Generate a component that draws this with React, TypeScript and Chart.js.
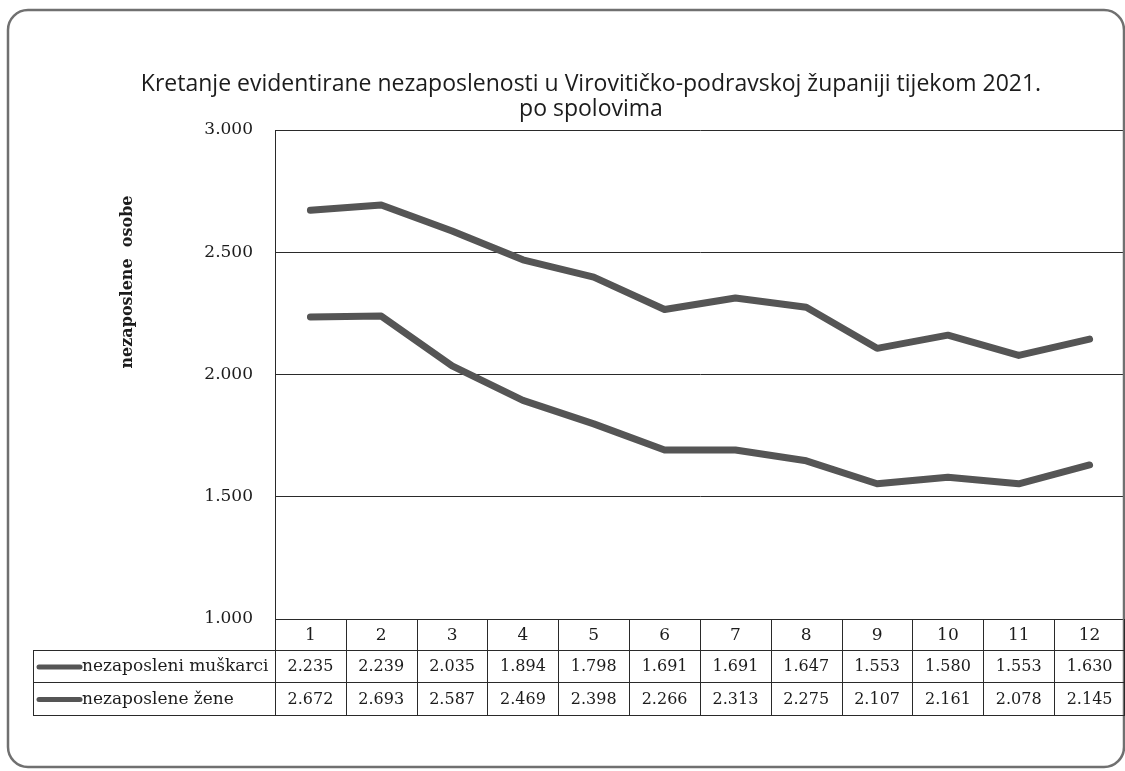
import React, { useEffect, useRef } from 'react';
import { Chart, registerables } from 'chart.js';

Chart.register(...registerables);

const months = ['1', '2', '3', '4', '5', '6', '7', '8', '9', '10', '11', '12'];
const muskarci = [2235, 2239, 2035, 1894, 1798, 1691, 1691, 1647, 1553, 1580, 1553, 1630];
const zene = [2672, 2693, 2587, 2469, 2398, 2266, 2313, 2275, 2107, 2161, 2078, 2145];
const seriesNames = ['nezaposleni muškarci', 'nezaposlene žene'];
const yMin = 1000;
const yMax = 3000;
const yStep = 500;
const titleLines = [
  'Kretanje evidentirane nezaposlenosti u Virovitičko-podravskoj županiji tijekom 2021.',
  'po spolovima',
];
const yTitle = 'nezaposlene  osobe';

const W = 1125;
const H = 771;
const LINE_COLOR = '#555555';
const INK = '#1c1c1c';
const SERIF = '"DejaVu Serif", "Liberation Serif", serif';
const SANS = '"Open Sans", Lato, sans-serif';

const fmt = (v: number) => {
  const s = String(Math.round(v));
  return s.length > 3 ? s.slice(0, -3) + '.' + s.slice(-3) : s;
};

const decorPlugin = {
  id: 'decor',
  afterDraw(chart: any) {
    const ctx: CanvasRenderingContext2D = chart.ctx;
    const area = chart.chartArea;
    const xs = chart.scales.x;
    ctx.save();

    // outer rounded frame
    ctx.strokeStyle = '#707070';
    ctx.lineWidth = 2.5;
    ctx.beginPath();
    (ctx as any).roundRect(8, 10, 1116, 757, 20);
    ctx.stroke();

    // title
    ctx.fillStyle = INK;
    ctx.font = `23px ${SANS}`;
    ctx.textAlign = 'center';
    ctx.textBaseline = 'middle';
    ctx.fillText(titleLines[0], 591, 84);
    ctx.fillText(titleLines[1], 591, 109);

    // y axis title
    ctx.save();
    ctx.translate(128, 282);
    ctx.rotate(-Math.PI / 2);
    ctx.font = `bold 16px ${SERIF}`;
    ctx.fillText(yTitle, 0, 0);
    ctx.restore();

    // data table
    const colW = xs.getPixelForValue(1) - xs.getPixelForValue(0);
    const top = area.bottom;
    const rowTops = [top, top + 31, top + 63, top + 96];
    const tableLeft = 33;
    const right = W - 0.5;
    ctx.strokeStyle = '#2a2a2a';
    ctx.lineWidth = 1;
    ctx.beginPath();
    for (let i = 0; i <= months.length; i++) {
      const x = Math.round(xs.getPixelForValue(0) - colW / 2 + i * colW) + 0.5;
      const xx = Math.min(x, right);
      ctx.moveTo(xx, rowTops[0]);
      ctx.lineTo(xx, rowTops[3]);
    }
    ctx.moveTo(tableLeft + 0.5, rowTops[1]);
    ctx.lineTo(tableLeft + 0.5, rowTops[3]);
    for (let r = 1; r <= 3; r++) {
      const y = Math.round(rowTops[r]) + 0.5;
      ctx.moveTo(tableLeft, y);
      ctx.lineTo(W, y);
    }
    ctx.stroke();

    // header labels
    ctx.fillStyle = INK;
    ctx.font = `17px ${SERIF}`;
    ctx.textAlign = 'center';
    ctx.textBaseline = 'middle';
    months.forEach((m, i) => {
      ctx.fillText(m, xs.getPixelForValue(i), (rowTops[0] + rowTops[1]) / 2 + 1);
    });

    const rows = [muskarci, zene];
    rows.forEach((vals, r) => {
      const cy = (rowTops[r + 1] + rowTops[r + 2]) / 2 + 1;
      ctx.strokeStyle = LINE_COLOR;
      ctx.lineWidth = 5;
      ctx.lineCap = 'round';
      ctx.beginPath();
      ctx.moveTo(39, cy);
      ctx.lineTo(80, cy);
      ctx.stroke();
      ctx.fillStyle = INK;
      ctx.textAlign = 'left';
      ctx.font = `17px ${SERIF}`;
      ctx.fillText(seriesNames[r], 82, cy);
      ctx.textAlign = 'center';
      ctx.font = `16px ${SERIF}`;
      vals.forEach((v, i) => {
        ctx.fillText(fmt(v), xs.getPixelForValue(i), cy);
      });
    });

    ctx.restore();
  },
};

export default function App() {
  const ref = useRef<HTMLCanvasElement | null>(null);

  useEffect(() => {
    document.body.style.margin = '0';
    const canvas = ref.current;
    if (!canvas) return;
    const lineDs = (label: string, data: number[]) => ({
      label,
      data,
      borderColor: LINE_COLOR,
      borderWidth: 7,
      pointRadius: 0,
      tension: 0,
      borderJoinStyle: 'round',
      borderCapStyle: 'round',
    });
    const chart = new Chart(canvas, {
      type: 'line',
      data: {
        labels: months,
        datasets: [lineDs(seriesNames[0], muskarci), lineDs(seriesNames[1], zene)],
      },
      options: {
        animation: false,
        responsive: false,
        devicePixelRatio: 1,
        layout: { padding: { left: 0, right: 0, top: 130, bottom: H - 619 } },
        plugins: {
          legend: { display: false },
          title: { display: false },
          tooltip: { enabled: false },
        },
        scales: {
          x: {
            type: 'category',
            display: false,
            offset: true,
          },
          y: {
            min: yMin,
            max: yMax,
            ticks: {
              stepSize: yStep,
              callback: (v: any) => fmt(Number(v)),
              font: { family: SERIF, size: 17 },
              color: INK,
              padding: 22,
            },
            grid: { color: '#2a2a2a', lineWidth: 1, drawTicks: false },
            border: { display: true, color: '#2a2a2a', width: 1 },
            afterFit: (s: any) => {
              s.width = 275;
            },
          },
        },
      },
      plugins: [decorPlugin],
    } as any);
    return () => chart.destroy();
  }, []);

  return (
    <div style={{ width: W, height: H, background: '#fff' }}>
      <canvas ref={ref} width={W} height={H} style={{ display: 'block' }} />
    </div>
  );
}
